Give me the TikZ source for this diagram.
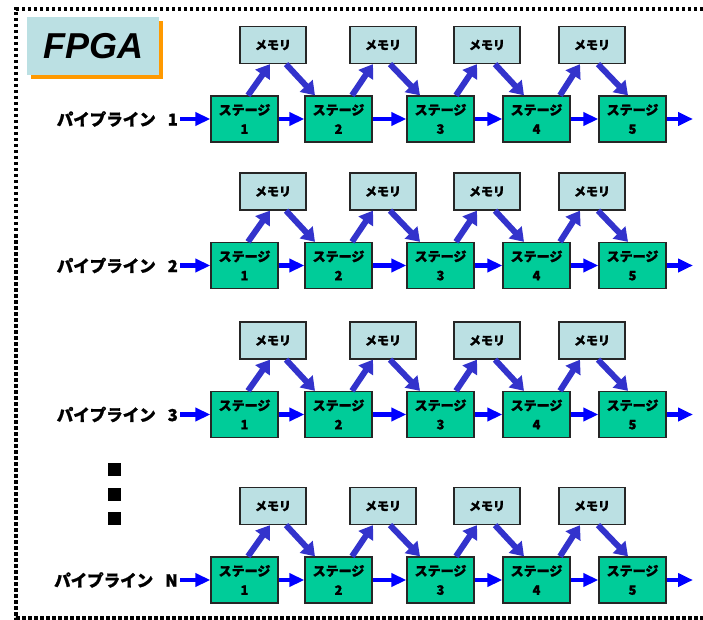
\documentclass[tikz,border=0pt]{standalone}
\usepackage{fontspec}
\setmainfont{Liberation Sans}
\newfontfamily\jp{Noto Sans CJK JP}[FakeBold=1.2]
\usetikzlibrary{arrows.meta}
\definecolor{stagec}{HTML}{00CC99}
\definecolor{memc}{HTML}{BBE0E3}
\definecolor{shadowc}{HTML}{FF9900}
\definecolor{harrow}{HTML}{0000FF}
\definecolor{darrow}{HTML}{3333CC}
\tikzset{
  stagebox/.style={draw=black!85, line width=1.3pt, fill=stagec, minimum width=67pt, minimum height=46pt, inner sep=0pt, align=center, font=\jp\bfseries\fontsize{13}{19}\selectfont},
  membox/.style={draw=black!85, line width=1.3pt, fill=memc, minimum width=66pt, minimum height=37pt, inner sep=0pt, font=\jp\bfseries\fontsize{12}{14}\selectfont},
  plabel/.style={inner xsep=2pt, inner ysep=0pt, anchor=east, font=\jp\bfseries\fontsize{16.5}{18}\selectfont},
  hflow/.style={-{Triangle[length=15pt,width=13pt]}, line width=4.5pt, harrow},
  dflow/.style={-{Triangle[length=13pt,width=17pt]}, line width=6pt, darrow},
  frame/.style={line width=3.5pt, dash pattern=on 3.5pt off 2.5pt}
}
\begin{document}
\begin{tikzpicture}[x=1pt,y=-1pt]
\useasboundingbox (0,0) rectangle (703,620);
% frame
\draw[frame] (703,9) -- (16,9) -- (16,618) -- (703,618);
% FPGA title
\fill[shadowc] (31,21) rectangle (163,79);
\node[fill=memc, minimum width=132pt, minimum height=58pt, anchor=north west, inner sep=0pt,
      font=\fontsize{36}{36}\selectfont\bfseries\itshape] (fpga) at (27,17) {FPGA};
% rows
\foreach \r/\yc/\lab in {1/119/1, 2/265.5/2, 3/414.5/3, 4/580/N} {
  \node[plabel] (l\r) at (180,\yc) {パイプライン\hspace{12pt}\lab};
  \foreach \i/\sx in {1/244.5, 2/338.5, 3/440.5, 4/536.5, 5/632.5}
    \node[stagebox] (s\r-\i) at (\sx,\yc) {ステージ\\\i};
  \foreach \i/\mx in {1/273, 2/383, 3/487, 4/592}
    \node[membox] (m\r-\i) at (\mx,\yc-74) {メモリ};
  \coordinate (o\r) at (693,\yc);
  \draw[hflow] (l\r.east) -- (s\r-1.west);
  \foreach \i/\j in {1/2, 2/3, 3/4, 4/5}
    \draw[hflow] (s\r-\i.east) -- (s\r-\j.west);
  \draw[hflow] (s\r-5.east) -- (o\r);
  \foreach \i/\j/\ua/\ub/\da/\db in {1/2/3.5/-3/13/-23.5, 2/3/13.5/-10/7/-20.5, 3/4/15.5/-10/8/-12.5, 4/5/23.5/-12/6/-4.5} {
    \draw[dflow] ([xshift=\ua pt]s\r-\i.north) -- ([xshift=\ub pt]m\r-\i.south);
    \draw[dflow] ([xshift=\da pt]m\r-\i.south) -- ([xshift=\db pt]s\r-\j.north);
  }
}
% vertical ellipsis dots
\fill (108,463) rectangle (121,476);
\fill (108,488) rectangle (121,501);
\fill (108,512) rectangle (121,525);
\end{tikzpicture}
\end{document}
